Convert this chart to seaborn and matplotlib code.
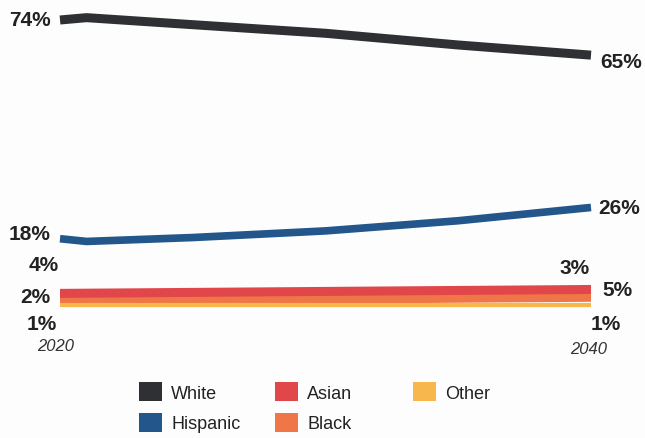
import matplotlib
matplotlib.use("Agg")
import matplotlib.pyplot as plt
from matplotlib.patches import Patch
import pandas as pd
import seaborn as sns

# Population share by group, 2020-2040 (percent)
years_main = [2020, 2021, 2025, 2030, 2035, 2040]
white = [74, 74.6, 72.8, 70.6, 67.6, 65]
hispanic = [18, 17.3, 18.3, 20.0, 22.6, 26]

years_small = [2020, 2040]
asian = [4, 5]
black = [2, 3]
other = [1, 1]

groups = ["White", "Hispanic", "Asian", "Black", "Other"]
colors = {
    "White": "#2e3034",
    "Hispanic": "#23568a",
    "Asian": "#e1464b",
    "Black": "#ef7747",
    "Other": "#f7b74c",
}
widths = {"White": 6.5, "Hispanic": 5.5, "Asian": 6.5, "Black": 6.5, "Other": 3.0}

sns.set_theme(style="white")
plt.rcParams["font.family"] = ["Liberation Sans", "DejaVu Sans"]

frames = []
for name, yrs, vals in [
    ("White", years_main, white),
    ("Hispanic", years_main, hispanic),
    ("Asian", years_small, asian),
    ("Black", years_small, black),
    ("Other", years_small, other),
]:
    frames.append(pd.DataFrame({"year": yrs, "share": vals, "group": name}))
df = pd.concat(frames, ignore_index=True)

W, H = 645, 439
fig = plt.figure(figsize=(W / 100, H / 100), dpi=100)
fig.patch.set_facecolor("#fdfdfd")
ax = fig.add_axes([60 / W, 1 - 310 / H, (591 - 60) / W, (310 - 21) / H])
ax.set_facecolor("none")

# draw order: orange below, yellow over it, red on top
for name in ["White", "Hispanic", "Black", "Other", "Asian"]:
    sub = df[df["group"] == name]
    sns.lineplot(data=sub, x="year", y="share", ax=ax, color=colors[name],
                 linewidth=widths[name], solid_capstyle="butt", clip_on=False,
                 legend=False)

ax.set_xlim(2020, 2040)
ax.set_ylim(0, 74)
ax.axis("off")

lbl = dict(fontsize=15, fontweight="bold", color="#222222", va="center",
           textcoords="offset points", annotation_clip=False)

# left-hand values
ax.annotate("74%", xy=(2020, white[0]), xytext=(-7, 0.5), ha="right", **lbl)
ax.annotate("18%", xy=(2020, hispanic[0]), xytext=(-7, 3.4), ha="right", **lbl)
ax.annotate("4%", xy=(2020, asian[0]), xytext=(-12, 21), ha="center", **lbl)
ax.annotate("2%", xy=(2020, black[0]), xytext=(-7, 3.7), ha="right", **lbl)
ax.annotate("1%", xy=(2020, other[0]), xytext=(-13, -13.6), ha="center", **lbl)

# right-hand values
ax.annotate("65%", xy=(2040, white[-1]), xytext=(6.5, -4.3), ha="left", **lbl)
ax.annotate("26%", xy=(2040, hispanic[-1]), xytext=(5, 0), ha="left", **lbl)
ax.annotate("3%", xy=(2040, black[-1]), xytext=(-12, 21.7), ha="center", **lbl)
ax.annotate("5%", xy=(2040, asian[-1]), xytext=(8, 0), ha="left", **lbl)
ax.annotate("1%", xy=(2040, other[-1]), xytext=(10.8, -13), ha="center", **lbl)

yr = dict(fontsize=12, fontstyle="italic", color="#333333", ha="center",
          va="center", textcoords="offset points", annotation_clip=False)
ax.annotate("2020", xy=(2020, 0), xytext=(-3, -26.6), **yr)
ax.annotate("2040", xy=(2040, 0), xytext=(-2, -28.8), **yr)

# legend: three columns
leg_cols = [(["White", "Hispanic"], 139), (["Asian", "Black"], 275), (["Other"], 413)]
for names, x0 in leg_cols:
    handles = [Patch(facecolor=colors[g], edgecolor="none", label=g) for g in names]
    leg = fig.legend(handles=handles, loc="upper left",
                     bbox_to_anchor=(x0 / W, 1 - 383 / H), frameon=False,
                     fontsize=13, handlelength=1.28, handleheight=1.28,
                     handletextpad=0.5, labelspacing=0.6,
                     borderpad=0, borderaxespad=0)
    for t in leg.get_texts():
        t.set_color("#222222")

fig.savefig("out.png", dpi=100, facecolor=fig.get_facecolor())
